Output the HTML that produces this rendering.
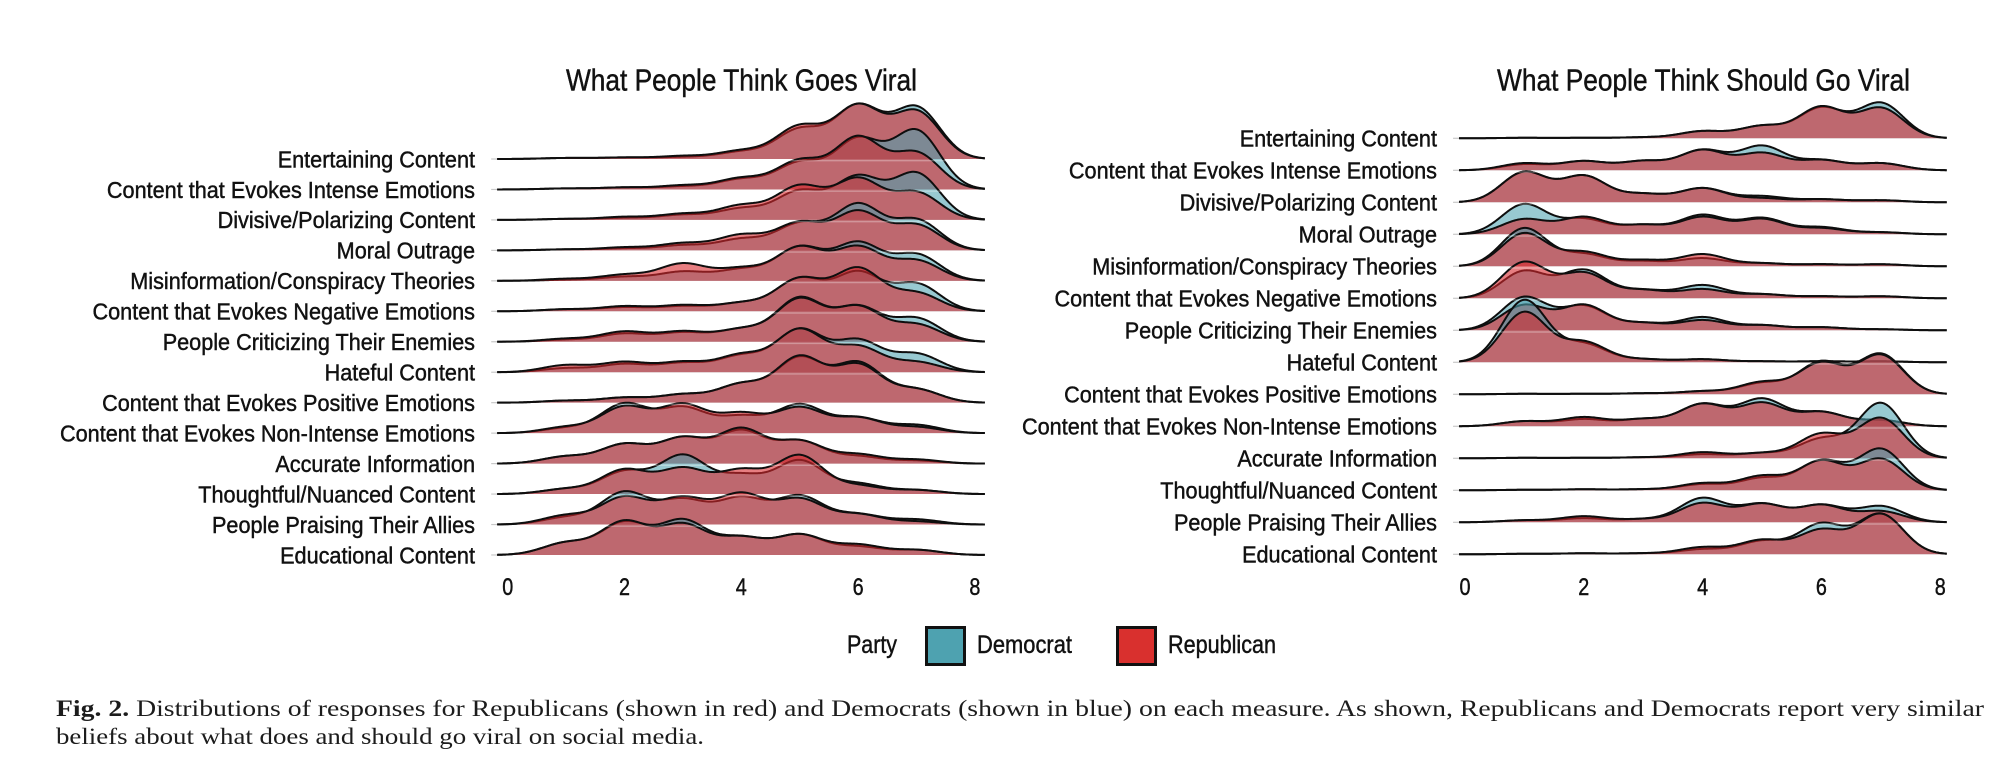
<!DOCTYPE html>
<html><head><meta charset="utf-8">
<style>
html,body{margin:0;padding:0;background:#fff;}
svg{display:block;}
text{font-family:"Liberation Sans",Arial,sans-serif;fill:#111;}
.sans{stroke:#111;stroke-width:0.45;}
.cap{font-family:"Liberation Serif","DejaVu Serif",serif;fill:#1c1c1c;}
</style></head><body>
<svg id="s" width="2000" height="778" viewBox="0 0 2000 778" xmlns="http://www.w3.org/2000/svg">
<rect width="2000" height="778" fill="#fff"/>
<g id="ticks" stroke="#c8c8c8" stroke-width="1.2"></g>
<g id="ridges"></g>

<!-- titles -->
<text class="sans" x="566" y="90.7" font-size="31" textLength="351" lengthAdjust="spacingAndGlyphs">What People Think Goes Viral</text>
<text class="sans" x="1497" y="90.7" font-size="31" textLength="413" lengthAdjust="spacingAndGlyphs">What People Think Should Go Viral</text>

<!-- left labels -->
<g font-size="23" text-anchor="end" class="sans">
<text class="lab" x="475" y="167.3">Entertaining Content</text>
<text class="lab" x="475" y="197.8">Content that Evokes Intense Emotions</text>
<text class="lab" x="475" y="228.2">Divisive/Polarizing Content</text>
<text class="lab" x="475" y="258.7">Moral Outrage</text>
<text class="lab" x="475" y="289.1">Misinformation/Conspiracy Theories</text>
<text class="lab" x="475" y="319.6">Content that Evokes Negative Emotions</text>
<text class="lab" x="475" y="350.1">People Criticizing Their Enemies</text>
<text class="lab" x="475" y="380.5">Hateful Content</text>
<text class="lab" x="475" y="411.0">Content that Evokes Positive Emotions</text>
<text class="lab" id="refLab" x="475" y="441.4">Content that Evokes Non-Intense Emotions</text>
<text class="lab" x="475" y="471.9">Accurate Information</text>
<text class="lab" x="475" y="502.4">Thoughtful/Nuanced Content</text>
<text class="lab" x="475" y="532.8">People Praising Their Allies</text>
<text class="lab" x="475" y="563.3">Educational Content</text>
</g>
<!-- right labels -->
<g font-size="23" text-anchor="end" class="sans">
<text class="lab" x="1437" y="146.7">Entertaining Content</text>
<text class="lab" x="1437" y="178.7">Content that Evokes Intense Emotions</text>
<text class="lab" x="1437" y="210.7">Divisive/Polarizing Content</text>
<text class="lab" x="1437" y="242.7">Moral Outrage</text>
<text class="lab" x="1437" y="274.7">Misinformation/Conspiracy Theories</text>
<text class="lab" x="1437" y="306.7">Content that Evokes Negative Emotions</text>
<text class="lab" x="1437" y="338.7">People Criticizing Their Enemies</text>
<text class="lab" x="1437" y="370.7">Hateful Content</text>
<text class="lab" x="1437" y="402.7">Content that Evokes Positive Emotions</text>
<text class="lab" x="1437" y="434.7">Content that Evokes Non-Intense Emotions</text>
<text class="lab" x="1437" y="466.7">Accurate Information</text>
<text class="lab" x="1437" y="498.7">Thoughtful/Nuanced Content</text>
<text class="lab" x="1437" y="530.7">People Praising Their Allies</text>
<text class="lab" x="1437" y="562.7">Educational Content</text>
</g>

<!-- x tick labels -->
<g font-size="24" text-anchor="middle" class="sans">
<text x="507.7" y="595.2" textLength="11" lengthAdjust="spacingAndGlyphs">0</text>
<text x="624.5" y="595.2" textLength="11" lengthAdjust="spacingAndGlyphs">2</text>
<text x="741.3" y="595.2" textLength="11" lengthAdjust="spacingAndGlyphs">4</text>
<text x="858.1" y="595.2" textLength="11" lengthAdjust="spacingAndGlyphs">6</text>
<text x="974.9" y="595.2" textLength="11" lengthAdjust="spacingAndGlyphs">8</text>
<text x="1465" y="595.2" textLength="11" lengthAdjust="spacingAndGlyphs">0</text>
<text x="1583.8" y="595.2" textLength="11" lengthAdjust="spacingAndGlyphs">2</text>
<text x="1702.6" y="595.2" textLength="11" lengthAdjust="spacingAndGlyphs">4</text>
<text x="1821.4" y="595.2" textLength="11" lengthAdjust="spacingAndGlyphs">6</text>
<text x="1940.2" y="595.2" textLength="11" lengthAdjust="spacingAndGlyphs">8</text>
</g>

<!-- legend -->
<text class="sans" x="847" y="653" font-size="25" textLength="50" lengthAdjust="spacingAndGlyphs">Party</text>
<rect x="926.5" y="627.5" width="38" height="37" fill="#4ea2b0" stroke="#111" stroke-width="3"/>
<text class="sans" x="977" y="653" font-size="25" textLength="95" lengthAdjust="spacingAndGlyphs">Democrat</text>
<rect x="1117.5" y="627.5" width="38" height="37" fill="#d9302e" stroke="#111" stroke-width="3"/>
<text class="sans" x="1168" y="653" font-size="25" textLength="108" lengthAdjust="spacingAndGlyphs">Republican</text>

<!-- caption -->
<text class="cap" x="56" y="716" font-size="23" textLength="1928" lengthAdjust="spacingAndGlyphs"><tspan font-weight="bold">Fig. 2.</tspan> Distributions of responses for Republicans (shown in red) and Democrats (shown in blue) on each measure. As shown, Republicans and Democrats report very similar</text>
<text class="cap" x="56" y="744" font-size="23" textLength="648" lengthAdjust="spacingAndGlyphs">beliefs about what does and should go viral on social media.</text>
</svg>
<script>
(function(){
const NS='http://www.w3.org/2000/svg';
const g=document.getElementById('ridges');
const tg=document.getElementById('ticks');
const REP='rgba(215,40,45,0.6)', DEM='rgba(78,162,176,0.58)';
function mk(tag,attrs,parent){const e=document.createElementNS(NS,tag);for(const k in attrs)e.setAttribute(k,attrs[k]);(parent||g).appendChild(e);return e;}
function panel(c){
  const xs=c.x0+c.sc*c.vmin, xe=c.x0+c.sc*c.vmax;
  c.rows.forEach((r,i)=>{
    const base=c.b0+c.dy*i;
    mk('line',{x1:xs-6,x2:xs,y1:base,y2:base},tg);
    [[r[1],DEM],[r[0],REP]].forEach(([A,col])=>{
      const pts=[];
      const n=Math.round((c.vmax-c.vmin)/0.02);
      for(let j=0;j<=n;j++){
        const v=c.vmin+(c.vmax-c.vmin)*j/n;
        let f=0;
        for(let k=0;k<7;k++){const d=v-(k+1);f+=A[k]*Math.exp(-d*d/(2*c.sig*c.sig));}
        pts.push((c.x0+c.sc*v).toFixed(2)+','+(base-f).toFixed(2));
      }
      const line='M'+pts.join('L');
      mk('path',{d:line+'L'+xe.toFixed(2)+','+base+'L'+xs.toFixed(2)+','+base+'Z',fill:col});
      mk('path',{d:line,fill:'none',stroke:'#0e0e0e','stroke-width':'2.0','stroke-linejoin':'round'});
    });
    if(i>0){
      const pb=c.b0+c.dy*(i-1);
      mk('line',{x1:xs,x2:xe,y1:pb+1.7,y2:pb+1.7,stroke:'rgba(255,255,255,0.3)','stroke-width':'1.4'});
    }
  });
}
panel({x0:507.7,sc:58.4,vmin:-0.18,vmax:8.17,b0:159,dy:30.46,sig:0.4,rows:[
 [[1,1.5,3,8,32,52,47],[1,1.5,2,7,29,52,51]],
 [[1,2,4,11,28,51,36],[1,2,3,10,26,49,58]],
 [[1,3,6,14,33,40,27],[1,2,5,11,28,42,46]],
 [[1,3,7,15,27,38,25],[1,2,5,11,26,45,30]],
 [[2,6,17,12,33,33,20],[1,4,9,11,33,37,26]],
 [[2,5,6,8,32,42,18],[2,4,5,8,32,38,27]],
 [[3,10,10,12,42,34,17],[2,8,9,12,43,34,23]],
 [[7,10,10,17,42,25,10],[4,8,9,16,42,31,18]],
 [[2,5,8,18,45,37,13],[2,5,8,18,44,39,13]],
 [[6,26,28,19,25,15,6],[5,29,25,16,28,15,8]],
 [[7,19,25,34,22,9,4],[7,19,25,32,22,7,3]],
 [[5,24,25,23,38,8,4],[5,22,38,18,33,10,4]],
 [[9,27,26,30,25,10,3],[7,32,24,26,28,10,5]],
 [[12,33,30,17,20,10,5],[12,32,34,17,20,8,5]]
]});
panel({x0:1465,sc:59.4,vmin:-0.10,vmax:8.11,b0:138.3,dy:32.0,sig:0.38,rows:[
 [[0.5,0.5,1,7,12,31,30],[0.5,0.5,1,7,12,30,35]],
 [[7,9,9,20,17,10,7],[6,9,9,20,24,10,7]],
 [[30,26,8,14,4,3,2],[30,26,8,14,6,3,2]],
 [[15,17,9,17,15,6,2],[30,15,9,19,16,7,2]],
 [[33,14,6,12,3,2,2],[38,12,5,8,3,2,2]],
 [[36,25,8,9,4,2,2],[27,28,8,13,4,2,2]],
 [[25,25,7,10,5,3,1],[33,24,7,13,5,3,1]],
 [[50,20,3,3,1,1,1],[62,18,3,3,1,1,1]],
 [[0.5,0.5,1,3,12,31,39],[0.5,0.5,1,3,11,32,40]],
 [[5,9,7,22,23,14,6],[5,7,7,22,27,14,6]],
 [[0.5,0.5,1,6,5,24,40],[0.5,0.5,1,4,5,19,55]],
 [[0.5,1,1,7,14,29,31],[0.5,1,1,6,12,29,41]],
 [[2,6,3,19,18,17,11],[2,4,3,24,18,17,16]],
 [[0.5,1,1,7,14,24,40],[0.5,1,1,5,13,30,40]]
]});
try{
  const ref=document.getElementById('refLab');
  const w=ref.getComputedTextLength();
  if(w>0){
    const k=415/w;
    document.querySelectorAll('.lab').forEach(t=>{
      const x=+t.getAttribute('x');
      t.setAttribute('transform','translate('+x+',0) scale('+k.toFixed(4)+',1) translate('+(-x)+',0)');
    });
  }
}catch(e){}
})();
</script>
</body></html>
